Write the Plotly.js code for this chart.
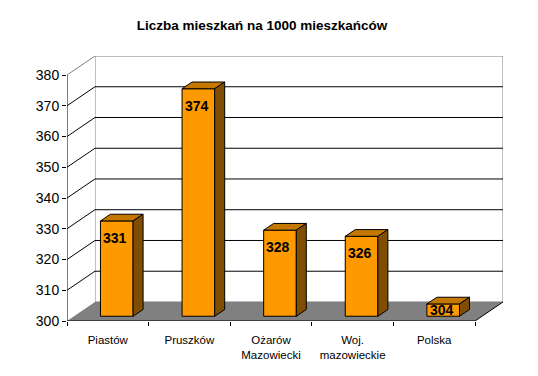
<!DOCTYPE html>
<html>
<head>
<meta charset="utf-8">
<script src="https://cdn.plot.ly/plotly-3.0.1.min.js"></script>
<style>html,body{margin:0;padding:0;background:#fff;}#chart{width:538px;height:376px;}</style>
</head>
<body>
<div id="chart"></div>
<script>
// ---- data ----
var categories = ["Piastów", "Pruszków", "Ożarów<br>Mazowiecki", "Woj.<br>mazowieckie", "Polska"];
var values = [331, 374, 328, 326, 304];
var yTickVals = [300, 310, 320, 330, 340, 350, 360, 370, 380];
var yTickText = ["300", "310", "320", "330", "340", "350", "360", "370", "380"];

// ---- 3D geometry (axis units) ----
var Y0 = 300, YTOP = 380;
var DX = 0.343, DY = 6.19;           // wall depth
var F0 = 0.25;                        // bar front face depth fraction
var BAR_W = 0.40, BAR_SHIFT = 0.11;   // bar width and shift
var BDX = 0.1225, BDY = 2.18;         // bar depth
var LBL_OFF = 5.5;                    // label drop below bar top

var idx = categories.map(function(_, i){ return i; });
var XL = -0.5, XR = categories.length - 0.5;

var shapes = [];
function path(pts){ return 'M' + pts.map(function(p){return p[0] + ',' + p[1];}).join(' L') + ' Z'; }
function poly(pts, fill, line, layer){
  shapes.push({type:'path', xref:'x', yref:'y', path:path(pts), fillcolor:fill,
    line:{color:line||'rgba(0,0,0,0)', width: line?1:0}, layer:layer||'below'});
}
function seg(x0,y0,x1,y1,color){
  shapes.push({type:'line', xref:'x', yref:'y', x0:x0, y0:y0, x1:x1, y1:y1, line:{color:color, width:1}, layer:'below'});
}

// back wall
poly([[XL+DX,Y0+DY],[XR+DX,Y0+DY],[XR+DX,YTOP+DY],[XL+DX,YTOP+DY]], '#ffffff', '#808080');
// side wall
poly([[XL,Y0],[XL,YTOP],[XL+DX,YTOP+DY],[XL+DX,Y0+DY]], '#ffffff', null);
seg(XL, YTOP, XL+DX, YTOP+DY, '#808080');
// floor
poly([[XL,Y0],[XR,Y0],[XR+DX,Y0+DY],[XL+DX,Y0+DY]], '#808080', null);
// gridlines
yTickVals.forEach(function(v){
  if (v === Y0 || v === YTOP) return;
  seg(XL+DX, v+DY, XR+DX, v+DY, '#000000');
  seg(XL, v, XL+DX, v+DY, '#000000');
});
// axis lines
seg(XL, Y0, XL, YTOP, '#000000');
seg(XL, Y0, XR, Y0, '#000000');
seg(XR, Y0, XR+DX, Y0+DY, '#000000');

// bar top and side faces
var barX = idx.map(function(i){ return i + BAR_SHIFT; });
var baseY = Y0 + F0*DY;
var annotations = [];
values.forEach(function(v, i){
  var xl = barX[i] - BAR_W/2, xr = barX[i] + BAR_W/2, top = v + F0*DY;
  poly([[xl,top],[xr,top],[xr+BDX,top+BDY],[xl+BDX,top+BDY]], '#C47800', '#000000', 'above');
  poly([[xr,baseY],[xr,top],[xr+BDX,top+BDY],[xr+BDX,baseY+BDY]], '#804E00', '#000000', 'above');
  var ly = Math.max(top - LBL_OFF, (baseY + top)/2);
  annotations.push({x: barX[i] - 0.02, y: ly, xref:'x', yref:'y', text: '<b>' + String(v) + '</b>', showarrow:false,
    font:{family:'Liberation Sans, Arial, sans-serif', size:14, color:'#000'}, xanchor:'center', yanchor:'middle'});
});

var trace = {
  type:'bar', x: barX, y: values.map(function(v){ return v - Y0; }), base: values.map(function(){ return baseY; }),
  width: BAR_W, marker:{color:'#FF9900', line:{color:'#000000', width:1}}, hoverinfo:'skip'
};

var layout = {
  width:538, height:376,
  margin:{l:67, r:35, t:56, b:55},
  paper_bgcolor:'#ffffff', plot_bgcolor:'rgba(0,0,0,0)',
  showlegend:false,
  font:{family:'Liberation Sans, Arial, sans-serif', color:'#000'},
  title:{text:'<b>Liczba mieszkań na 1000 mieszkańców</b>', x:0.487, xref:'container', xanchor:'center',
    y:0.934, yref:'container', yanchor:'middle', font:{size:13.5, color:'#000'}},
  xaxis:{range:[XL, XR+DX], tickmode:'array', tickvals: idx, ticktext: categories,
    ticks:'outside', ticklen:8, tickcolor:'rgba(0,0,0,0)',
    showgrid:false, zeroline:false, showline:false, fixedrange:true,
    tickfont:{size:11.5, color:'#000'},
    minor:{ticks:'outside', ticklen:4, tickcolor:'#000', tick0:-0.5, dtick:1, showgrid:false}},
  yaxis:{range:[Y0, YTOP+DY], tickmode:'array', tickvals:yTickVals, ticktext:yTickText, ticks:'outside',
    ticklen:4, tickcolor:'#000', showgrid:false, zeroline:false, showline:false, fixedrange:true,
    tickfont:{size:14, color:'#000'}},
  shapes: shapes,
  annotations: annotations
};

Plotly.newPlot('chart', [trace], layout, {displayModeBar:false, staticPlot:true});
</script>
</body>
</html>
